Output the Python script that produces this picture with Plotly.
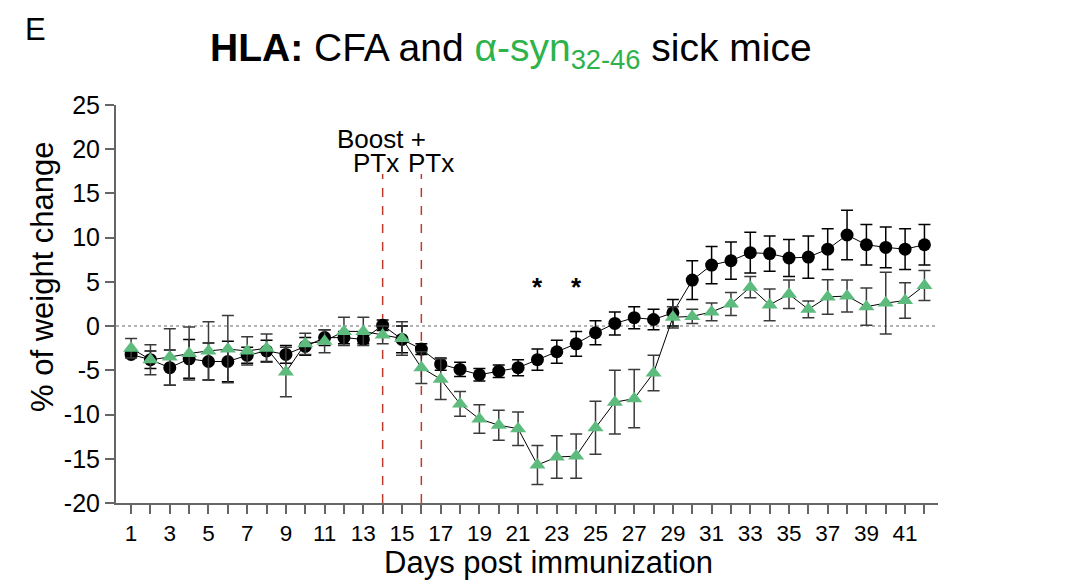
import plotly.graph_objects as go

days = list(range(1, 43))

cfa_mean = [-3.2, -3.8, -4.7, -3.7, -4.0, -4.0, -3.3, -2.8, -3.2, -2.3,
            -1.3, -1.3, -1.5, 0.1, -1.5, -2.6, -4.3, -4.9, -5.5, -5.1,
            -4.7, -3.8, -2.9, -2.0, -0.75, 0.3, 0.95, 0.75, 1.5, 5.2,
            6.9, 7.4, 8.3, 8.2, 7.7, 7.8, 8.7, 10.3, 9.2, 8.9,
            8.7, 9.2]
cfa_sem = [0.3, 1.0, 2.0, 2.2, 2.1, 2.3, 0.9, 1.2, 1.0, 1.0,
           0.9, 0.7, 0.5, 0.6, 1.5, 0.6, 0.7, 0.8, 0.7, 0.7,
           0.9, 1.2, 1.3, 1.4, 1.35, 1.3, 1.25, 1.15, 1.5, 2.2,
           2.1, 2.1, 2.3, 2.0, 2.1, 2.4, 2.3, 2.8, 2.3, 2.3,
           2.3, 2.3]

syn_mean = [-2.5, -3.8, -3.5, -3.1, -2.8, -2.6, -2.8, -2.5, -5.2, -2.0,
            -1.7, -0.6, -0.6, -1.0, -1.4, -4.7, -6.0, -8.8, -10.5, -11.2,
            -11.6, -15.7, -14.8, -14.7, -11.5, -8.6, -8.2, -5.3, 1.0, 1.1,
            1.6, 2.5, 4.4, 2.4, 3.6, 1.9, 3.3, 3.4, 2.2, 2.6,
            2.9, 4.6]
syn_sem = [1.1, 1.7, 3.2, 3.0, 3.3, 3.8, 1.6, 1.6, 2.8, 1.2,
           1.3, 1.6, 1.6, 1.0, 1.9, 1.8, 2.3, 1.4, 1.6, 1.7,
           1.9, 2.2, 2.4, 2.5, 3.0, 3.6, 3.3, 2.0, 1.2, 0.8,
           1.0, 1.3, 1.2, 1.8, 1.6, 0.95, 1.95, 1.8, 2.1, 3.5,
           2.0, 1.7]

y_ticks = [-20, -15, -10, -5, 0, 5, 10, 15, 20, 25]
y_ticktext = ["-20", "-15", "-10", "-5", "0", "5", "10", "15", "20", "25"]
event_days = [14, 16]
star_days = [22, 24]

# layout geometry (screen pixels); page body has an 8px margin
OFF = 8
W, H = 1074, 582
PL, PR, PT, PB = 116, 938, 105, 503          # plot area on screen
L, T = PL - OFF, PT - OFF
R = W - (PR - OFF)
B = H - (PB - OFF)
PW, PH = PR - PL, PB - PT


def px(xs):
    return (xs - PL) / PW


def py(ys):
    return (PB - ys) / PH


fig = go.Figure()

# zero dotted line
fig.add_shape(type="line", xref="paper", yref="y", x0=0, x1=1, y0=0, y1=0,
              line=dict(color="#9a9a9a", width=1.5, dash="dot"), layer="below")

# event dashed lines
for d in event_days:
    fig.add_shape(type="line", xref="x", yref="y", x0=d, x1=d, y0=-20, y1=17.2,
                  line=dict(color="#c0392b", width=1.5, dash="dash"), layer="below")

fig.add_trace(go.Scatter(
    x=days, y=cfa_mean, mode="lines+markers", name="CFA",
    line=dict(color="black", width=1),
    marker=dict(symbol="circle", size=13, color="black"),
    error_y=dict(type="data", array=cfa_sem, visible=True, color="black",
                 thickness=1.5, width=6),
    showlegend=False,
))
fig.add_trace(go.Scatter(
    x=days, y=syn_mean, mode="lines+markers", name="α-syn32-46",
    line=dict(color="black", width=1),
    marker=dict(symbol="triangle-up", size=14, color="#5dbb7e"),
    error_y=dict(type="data", array=syn_sem, visible=True, color="#3a3a3a",
                 thickness=1.5, width=6),
    showlegend=False,
))

font_family = "Liberation Sans, Arial, sans-serif"

annotations = [
    dict(x=px(35), y=py(29), xref="paper", yref="paper", text="E",
         showarrow=False, font=dict(size=31, color="black"),
         xanchor="center", yanchor="middle"),
    dict(x=px(511), y=py(50), xref="paper", yref="paper",
         text="<b>HLA:</b> CFA and <span style='color:#2eb24b'>α-syn<sub>32-46</sub></span> sick mice",
         showarrow=False, font=dict(size=39, color="black"),
         xanchor="center", yanchor="middle"),
    dict(x=px(42), y=py(277), xref="paper", yref="paper",
         text="% of weight change", textangle=-90,
         showarrow=False, font=dict(size=31, color="black"),
         xanchor="center", yanchor="middle"),
    dict(x=px(548), y=py(562), xref="paper", yref="paper",
         text="Days post immunization",
         showarrow=False, font=dict(size=31, color="black"),
         xanchor="center", yanchor="middle"),
    dict(x=px(381), y=py(139), xref="paper", yref="paper", text="Boost +",
         showarrow=False, font=dict(size=26, color="black"),
         xanchor="center", yanchor="middle"),
    dict(x=px(376), y=py(163), xref="paper", yref="paper", text="PTx",
         showarrow=False, font=dict(size=26, color="black"),
         xanchor="center", yanchor="middle"),
    dict(x=px(431), y=py(163), xref="paper", yref="paper", text="PTx",
         showarrow=False, font=dict(size=26, color="black"),
         xanchor="center", yanchor="middle"),
]
for d in star_days:
    annotations.append(dict(x=d, y=4.4, xref="x", yref="y", text="<b>*</b>",
                            showarrow=False, font=dict(size=26, color="black"),
                            xanchor="center", yanchor="middle"))

fig.update_layout(
    width=W, height=H,
    margin=dict(l=L, r=R, t=T, b=B, pad=0),
    paper_bgcolor="white", plot_bgcolor="white",
    font=dict(family=font_family, color="black"),
    annotations=annotations,
    xaxis=dict(
        range=[0.22, 42.7], tickmode="linear", tick0=1, dtick=2,
        showline=True, linecolor="#666666", linewidth=2,
        ticks="outside", ticklen=9, tickwidth=1.5, tickcolor="#666666",
        minor=dict(ticks="outside", tick0=0, dtick=1, ticklen=9,
                   tickwidth=1.5, tickcolor="#666666", showgrid=False),
        tickfont=dict(size=22.5, color="black"),
        showgrid=False, zeroline=False,
    ),
    yaxis=dict(
        range=[-20, 25], tickmode="array", tickvals=y_ticks, ticktext=y_ticktext,
        showline=True, linecolor="#666666", linewidth=2,
        ticks="outside", ticklen=9, tickwidth=1.5, tickcolor="#666666",
        tickfont=dict(size=25, color="black"),
        showgrid=False, zeroline=False,
    ),
)

fig.write_html("out.html")
